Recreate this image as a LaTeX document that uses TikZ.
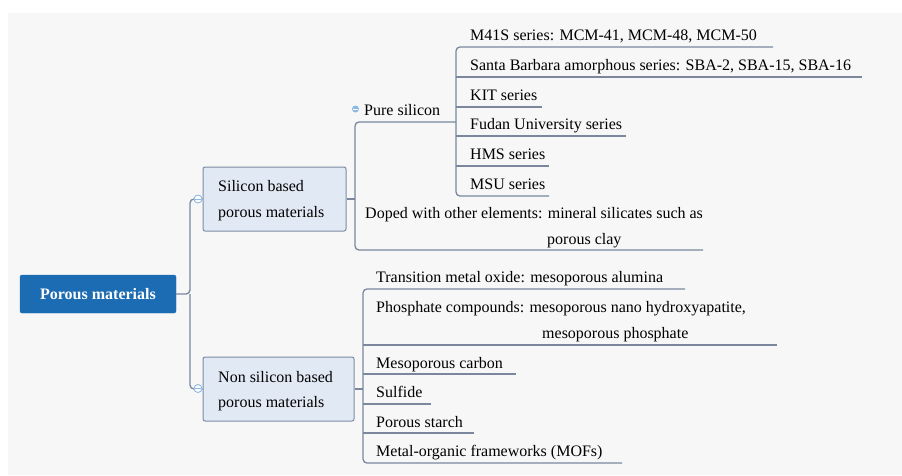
\documentclass[tikz,border=0pt]{standalone}
\usepackage{fontspec}
\setmainfont{Liberation Serif}
\newfontfamily\tnr{Liberation Serif}
\definecolor{bgc}{HTML}{F7F7F7}
\definecolor{rootblue}{HTML}{1B6CB2}
\definecolor{boxfill}{HTML}{E1E9F5}
\definecolor{boxdraw}{HTML}{7D8CA3}
\definecolor{linec}{HTML}{7A879D}
\definecolor{togc}{HTML}{8DB8E3}
\begin{document}
\begin{tikzpicture}[x=1pt,y=-1pt,
  every node/.style={font=\tnr\fontsize{16}{19}\selectfont, text=black},
  rootbox/.style={fill=rootblue, draw=rootblue, rounded corners=2pt, minimum width=156pt, minimum height=38pt, inner sep=0pt, text=white, font=\tnr\fontsize{16}{19}\selectfont\bfseries},
  catbox/.style={fill=boxfill, draw=boxdraw, line width=1pt, rounded corners=2pt, inner sep=0pt},
  lbl/.style={anchor=base west, inner sep=0pt},
  mlbl/.style={anchor=base west, inner sep=0pt, align=left, font=\tnr\fontsize{16}{25.5}\selectfont},
  conn/.style={draw=linec, line width=1.3pt, rounded corners=4pt},
  tog/.style={circle, draw=togc, fill=white, line width=0.9pt, minimum size=8pt, inner sep=0pt},
  togs/.style={circle, fill=togc, minimum size=7pt, inner sep=0pt},
]
\fill[white] (0,0) rectangle (902,475);
\fill[bgc] (8,13) rectangle (902,475);

% root
\node[rootbox] (root) at (98,294) {Porous materials};

% category boxes
\node[catbox, minimum width=143pt, minimum height=64pt] (sil) at (274.5,199) {};
\node[lbl] (silt) at (218,191) {Silicon based};
\node[lbl] (silt2) at (218,217) {porous materials};
\node[catbox, minimum width=151pt, minimum height=64pt] (non) at (278.5,389) {};
\node[lbl] (nont) at (218,382) {Non silicon based};
\node[lbl] (nont2) at (218,407) {porous materials};

% root connectors
\coordinate (rj) at (190,294);
\draw[conn] (root.east) -- (rj) |- (sil.west);
\draw[conn] (rj) |- (non.west);
\node[tog] (t1) at (198,199) {};
\draw[togc, line width=0.9pt] ([xshift=-2.6pt]t1.center) -- ([xshift=2.6pt]t1.center);
\node[tog] (t2) at (198,388.5) {};
\draw[togc, line width=0.9pt] ([xshift=-2.6pt]t2.center) -- ([xshift=2.6pt]t2.center);

% silicon branch
\node[lbl] (pure) at (364,115) {Pure silicon};
\node[togs] (t3) at (355.5,109) {};
\draw[white, line width=0.9pt] ([xshift=-2.2pt]t3.center) -- ([xshift=2.2pt]t3.center);
\node[mlbl] (doped) at (365,244) {Doped with other elements: mineral silicates such as\\\hspace*{182pt}porous clay};

\coordinate (sj) at (355,199);
\coordinate (pj) at (456,122);
\coordinate (dend) at (703,250);
\draw[conn] (sil.east) -- (sj);
\draw[conn] (pj) -- (355,122) -- (355,250) -- (dend);

% pure silicon children
\node[lbl] (m41) at (470,40) {M41S series: MCM-41, MCM-48, MCM-50};
\node[lbl] (sba) at (470,70) {Santa Barbara amorphous series: SBA-2, SBA-15, SBA-16};
\node[lbl] (kit) at (470,100) {KIT series};
\node[lbl] (fud) at (470,129) {Fudan University series};
\node[lbl] (hms) at (470,159) {HMS series};
\node[lbl] (msu) at (470,189) {MSU series};

\coordinate (m41e) at (773,47);
\coordinate (msue) at (549,196);
\draw[conn] (m41e) -- (456,47) -- (456,196) -- (msue);
\draw[conn] (456,77) -- (862,77);
\draw[conn] (456,107) -- (542,107);
\draw[conn] (456,136) -- (626,136);
\draw[conn] (456,166) -- (549,166);

% non silicon children
\node[lbl] (tmo) at (376,282) {Transition metal oxide: mesoporous alumina};
\node[mlbl] (pho) at (376,338) {Phosphate compounds: mesoporous nano hydroxyapatite,\\\hspace*{166pt}mesoporous phosphate};
\node[lbl] (mc) at (376,368) {Mesoporous carbon};
\node[lbl] (sul) at (376,397) {Sulfide};
\node[lbl] (ps) at (376,427) {Porous starch};
\node[lbl] (mof) at (376,456) {Metal-organic frameworks (MOFs)};

\coordinate (nj) at (363,389);
\coordinate (tmoe) at (685,289);
\coordinate (mofe) at (622,463);
\draw[conn] (non.east) -- (nj);
\draw[conn] (tmoe) -- (363,289) -- (363,463) -- (mofe);
\draw[conn] (363,345) -- (777,345);
\draw[conn] (363,374) -- (516,374);
\draw[conn] (363,404) -- (431,404);
\draw[conn] (363,433) -- (474,433);
\end{tikzpicture}
\end{document}
